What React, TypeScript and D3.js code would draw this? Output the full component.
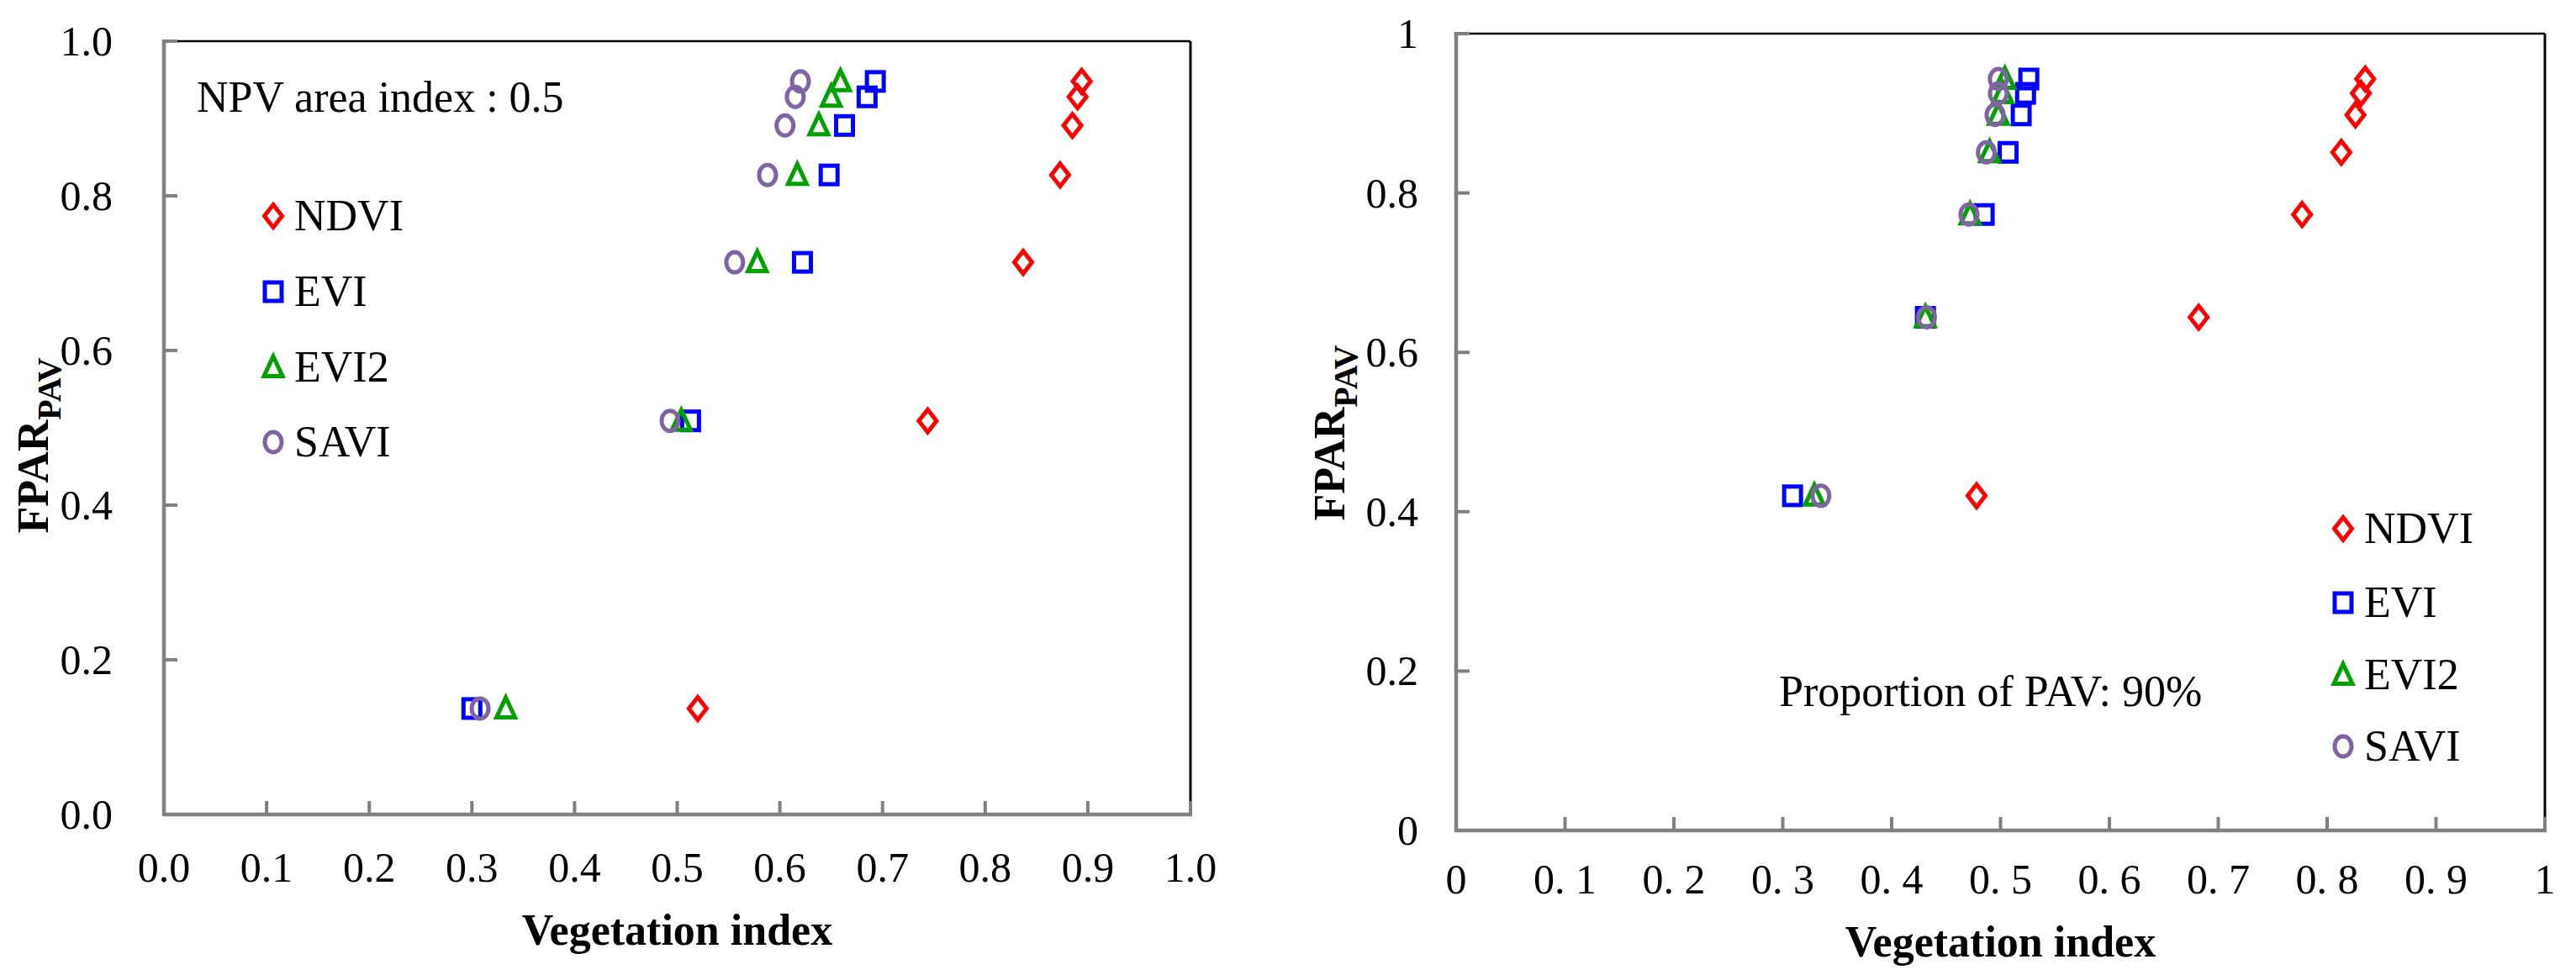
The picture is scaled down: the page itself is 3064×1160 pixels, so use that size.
import React from "react";
import * as d3 from "d3";

// FPAR (y) values shared by every index of a panel
const fparLeft = [0.948, 0.928, 0.891, 0.827, 0.714, 0.509, 0.137];
const ndviLeft = [0.894, 0.89, 0.885, 0.873, 0.837, 0.744, 0.52];
const eviLeft = [0.693, 0.685, 0.663, 0.648, 0.622, 0.513, 0.3];
const evi2Left = [0.659, 0.65, 0.638, 0.617, 0.578, 0.504, 0.333];
const saviLeft = [0.62, 0.615, 0.605, 0.588, 0.556, 0.493, 0.308];

const fparRight = [0.943, 0.925, 0.898, 0.851, 0.773, 0.644, 0.42];
const ndviRight = [0.835, 0.831, 0.826, 0.813, 0.777, 0.682, 0.478];
const eviRight = [0.526, 0.523, 0.519, 0.507, 0.485, 0.431, 0.309];
const evi2Right = [0.504, 0.502, 0.498, 0.49, 0.472, 0.431, 0.329];
const saviRight = [0.498, 0.498, 0.495, 0.487, 0.471, 0.432, 0.335];

const seriesNames = ["NDVI", "EVI", "EVI2", "SAVI"];

const xTicks = [0, 0.1, 0.2, 0.3, 0.4, 0.5, 0.6, 0.7, 0.8, 0.9, 1];
const yTicks = [0, 0.2, 0.4, 0.6, 0.8, 1];
const xTickLabelsLeft = ["0.0", "0.1", "0.2", "0.3", "0.4", "0.5", "0.6", "0.7", "0.8", "0.9", "1.0"];
const yTickLabelsLeft = ["0.0", "0.2", "0.4", "0.6", "0.8", "1.0"];
const xTickLabelsRight = ["0", "0. 1", "0. 2", "0. 3", "0. 4", "0. 5", "0. 6", "0. 7", "0. 8", "0. 9", "1"];
const yTickLabelsRight = ["0", "0.2", "0.4", "0.6", "0.8", "1"];

const colors: Record<string, string> = {
  NDVI: "#ff0000",
  EVI: "#0000ff",
  EVI2: "#00a000",
  SAVI: "#8064a2",
};

const FONT = "'Liberation Serif', 'Times New Roman', serif";
const GREY = "#808080";

function Marker({ kind, x, y }: { kind: string; x: number; y: number }) {
  const c = colors[kind];
  const sw = 5;
  if (kind === "NDVI")
    return <path d={`M${x},${y - 13.5}L${x + 10.5},${y}L${x},${y + 13.5}L${x - 10.5},${y}Z`} fill="none" stroke={c} strokeWidth={sw} />;
  if (kind === "EVI")
    return <rect x={x - 10} y={y - 11} width={20} height={22} fill="none" stroke={c} strokeWidth={sw} />;
  if (kind === "EVI2")
    return <path d={`M${x},${y - 13}L${x + 11},${y + 10.5}L${x - 11},${y + 10.5}Z`} fill="none" stroke={c} strokeWidth={sw} />;
  return <ellipse cx={x} cy={y} rx={10} ry={12} fill="none" stroke={c} strokeWidth={sw} />;
}

function Panel(p: any) {
  const x = d3.scaleLinear().domain([0, 1]).range([p.left, p.right]);
  const y = d3.scaleLinear().domain([0, 1]).range([p.bottom, p.top]);
  const series = [p.ndvi, p.evi, p.evi2, p.savi];

  return (
    <g fontFamily={FONT}>
      {/* plot frame: black top/right, grey axes */}
      <line x1={p.left} x2={p.right} y1={p.top} y2={p.top} stroke="#000" strokeWidth={2.5} />
      <line x1={p.right} x2={p.right} y1={p.top} y2={p.bottom} stroke="#000" strokeWidth={3} />
      <line x1={p.left} x2={p.right + 2} y1={p.bottom} y2={p.bottom} stroke={GREY} strokeWidth={4.5} />
      <line x1={p.left} x2={p.left} y1={p.top - 2} y2={p.bottom + 2} stroke={GREY} strokeWidth={4.5} />

      {xTicks.map((t, i) => (
        <g key={"x" + i}>
          <line x1={x(t)} x2={x(t)} y1={p.bottom} y2={p.bottom - 16} stroke={GREY} strokeWidth={4} />
          <text x={x(t)} y={p.xLabelY} textAnchor="middle" fontSize={50}>{p.xLabels[i]}</text>
        </g>
      ))}
      {yTicks.map((t, i) => (
        <g key={"y" + i}>
          <line x1={p.left} x2={p.left + 16} y1={y(t)} y2={y(t)} stroke={GREY} strokeWidth={4} />
          <text x={p.yLabelX} y={y(t) + 17} textAnchor="end" fontSize={50}>{p.yLabels[i]}</text>
        </g>
      ))}

      {series.map((vals: number[], s: number) => (
        <g key={seriesNames[s]}>
          {vals.map((v, i) => (
            <Marker key={i} kind={seriesNames[s]} x={x(v)} y={y(p.fpar[i])} />
          ))}
        </g>
      ))}

      {seriesNames.map((n, i) => (
        <g key={"lg" + n}>
          <Marker kind={n} x={p.legendX} y={p.legendY[i]} />
          <text x={p.legendX + 25} y={p.legendY[i] + 17} fontSize={52}>{n}</text>
        </g>
      ))}

      <text x={p.noteX} y={p.noteY} fontSize={52}>{p.note}</text>

      <text x={(p.left + p.right) / 2} y={p.xTitleY} textAnchor="middle" fontSize={52} fontWeight="bold">
        Vegetation index
      </text>
      <text
        transform={`translate(${p.yTitleX},${p.yTitleCY}) rotate(-90)`}
        textAnchor="middle"
        fontSize={52}
        fontWeight="bold"
      >
        FPAR<tspan fontSize={40} dy={15}>PAV</tspan>
      </text>
    </g>
  );
}

export default function App() {
  return (
    <svg width={3064} height={1160} style={{ position: "absolute", left: 0, top: 0, background: "#fff" }}>
      <rect width={3064} height={1160} fill="#fff" />
      <Panel
        left={195} right={1416} top={49} bottom={969}
        xLabelY={1049} yLabelX={134} xTitleY={1124}
        yTitleX={57} yTitleCY={530}
        xLabels={xTickLabelsLeft} yLabels={yTickLabelsLeft}
        fpar={fparLeft} ndvi={ndviLeft} evi={eviLeft} evi2={evi2Left} savi={saviLeft}
        legendX={325} legendY={[257, 347, 437, 526]}
        note="NPV area index : 0.5" noteX={234} noteY={133}
      />
      <Panel
        left={1732} right={3027} top={40} bottom={988}
        xLabelY={1063} yLabelX={1687} xTitleY={1138}
        yTitleX={1599} yTitleCY={515}
        xLabels={xTickLabelsRight} yLabels={yTickLabelsRight}
        fpar={fparRight} ndvi={ndviRight} evi={eviRight} evi2={evi2Right} savi={saviRight}
        legendX={2787} legendY={[629, 717, 803, 888]}
        note="Proportion of PAV: 90%" noteX={2116} noteY={840}
      />
    </svg>
  );
}
